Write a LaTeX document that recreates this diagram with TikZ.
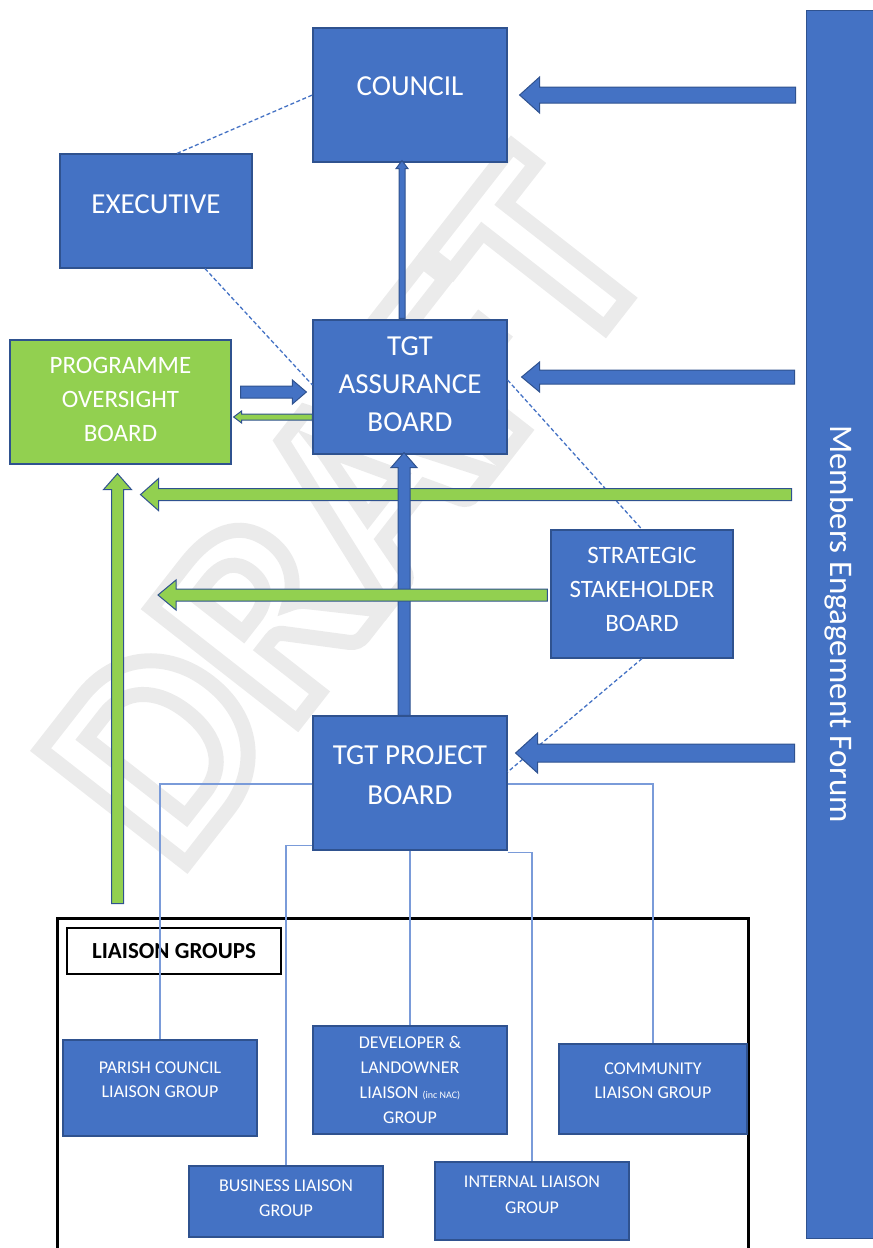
\documentclass[tikz,border=0pt]{standalone}
\usepackage{fontspec}
\setmainfont{Carlito}
\usetikzlibrary{calc}
\definecolor{boxblue}{HTML}{4472C4}
\definecolor{edgeblue}{HTML}{2F528F}
\definecolor{boxgreen}{HTML}{92D050}
\definecolor{linkblue}{HTML}{7A9BD9}
\definecolor{wmgray}{HTML}{EBEBEB}
% block arrow: fill, start, tip, shaft half width, head half width, head length
\newcommand{\blockarrow}[6]{%
  \coordinate (ba-s) at #2;
  \coordinate (ba-e) at #3;
  \coordinate (ba-h) at ($(ba-e)!#6!(ba-s)$);
  \filldraw[arrowedge, fill=#1] ($(ba-s)!#4!90:(ba-e)$) -- ($(ba-h)!#4!90:(ba-e)$)
    -- ($(ba-h)!#5!90:(ba-e)$) -- (ba-e) -- ($(ba-h)!#5!-90:(ba-e)$)
    -- ($(ba-h)!#4!-90:(ba-e)$) -- ($(ba-s)!#4!-90:(ba-e)$) -- cycle;
}
% hollow letters for the watermark
\newcommand{\hollow}[1]{\special{pdf:literal direct 1 Tr 15 w}#1\special{pdf:literal direct 0 Tr}}
\begin{document}
\begin{tikzpicture}[x=1pt, y=1pt,
    board/.style={draw=edgeblue, fill=boxblue, line width=1.2pt, text=white, align=center, inner sep=2pt},
    bigboard/.style={board, font=\fontsize{29}{38}\selectfont},
    midboard/.style={board, font=\fontsize{25}{34}\selectfont},
    smallboard/.style={board, font=\fontsize{18}{24}\selectfont},
    dashlink/.style={boxblue, line width=1.3pt, dash pattern=on 4pt off 2.5pt},
    link/.style={linkblue, line width=1.5pt},
    arrowedge/.style={draw=edgeblue, line width=1pt},
    draftmark/.style={rotate=52, font=\bfseries\fontsize{285}{285}\selectfont}]
	\useasboundingbox (0,0) rectangle (873,-1248);
	% watermark
	\node[draftmark, text=wmgray] (draft) at (345,-510) {\hollow{DRAFT}};

	\node[bigboard, minimum width=194pt, minimum height=134pt, text depth=18pt] (council) at (410,-95) {COUNCIL};
	\node[bigboard, minimum width=192pt, minimum height=114pt, text depth=14pt] (exec) at (156,-211) {EXECUTIVE};
	\node[bigboard, minimum width=194pt, minimum height=134pt, text depth=6pt] (assure) at (410,-387) {TGT\\ASSURANCE\\BOARD};
	\node[midboard, fill=boxgreen, minimum width=221pt, minimum height=124pt, text depth=6pt] (prog) at (120.5,-402) {PROGRAMME\\OVERSIGHT\\BOARD};
	\node[midboard, minimum width=182pt, minimum height=128pt, text depth=10pt] (strat) at (642,-594) {STRATEGIC\\STAKEHOLDER\\BOARD};
	\node[bigboard, font=\fontsize{29}{40}\selectfont, minimum width=194pt, minimum height=134pt, text depth=16pt] (project) at (410,-783) {TGT PROJECT\\BOARD};
	\node[board, rotate=-90, font=\fontsize{33}{38}\selectfont, line width=0.8pt, minimum width=1228pt, minimum height=67pt] (mef) at (839.5,-624) {Members Engagement Forum};

	\draw[dashlink] ($(exec.north)+(21,0)$) -- (council.west);
	\draw[dashlink] ($(exec.south)+(49,0)$) -- ($(assure.west)+(0,2)$);
	\draw[dashlink] ($(assure.east)+(0,7)$) -- (strat.north);
	\draw[dashlink] (strat.south) -- ($(project.east)+(0,11)$);

	% liaison groups
	\node[draw, line width=3pt, minimum width=691pt, minimum height=344pt, inner sep=0pt] (lgframe) at (402.5,-1090) {};
	\node[draw, line width=1.5pt, minimum width=214pt, minimum height=46pt, font=\bfseries\fontsize{23}{28}\selectfont] (lgtitle) at (174,-951) {LIAISON GROUPS};
	\node[smallboard, minimum width=194pt, minimum height=96pt, text depth=16pt] (parish) at (160,-1088) {PARISH COUNCIL\\LIAISON GROUP};
	\node[smallboard, font=\fontsize{18}{25}\selectfont, minimum width=194pt, minimum height=108pt] (dev) at (410,-1080) {DEVELOPER \&\\LANDOWNER\\LIAISON {\fontsize{10}{10}\selectfont(inc NAC)}\\GROUP};
	\node[smallboard, minimum width=188pt, minimum height=90pt, text depth=16pt] (comm) at (653,-1089) {COMMUNITY\\LIAISON GROUP};
	\node[smallboard, font=\fontsize{18}{25}\selectfont, minimum width=194pt, minimum height=71pt, text depth=6pt] (biz) at (286,-1201.5) {BUSINESS LIAISON\\GROUP};
	\node[smallboard, font=\fontsize{18}{26}\selectfont, minimum width=194pt, minimum height=78pt, text depth=12pt] (internal) at (532,-1201) {INTERNAL LIAISON\\GROUP};

	\draw[link] ($(project.west)+(0,-1)$) -| (parish.north);
	\draw[link] ($(project.south west)+(0,5)$) -| (biz.north);
	\draw[link] (project.south) -- (dev.north);
	\draw[link] ($(project.south east)+(0,-2)$) -| (internal.north);
	\draw[link] ($(project.east)+(0,-1)$) -| (comm.north);

	% arrows
	\blockarrow{boxblue}{($(mef.south |- council.east)+(-10,0)$)}{($(council.east)+(12,0)$)}{8pt}{18pt}{20pt}
	\blockarrow{boxblue}{($(mef.south |- assure.east)+(-11,10)$)}{($(assure.east)+(14,10)$)}{7pt}{15pt}{18pt}
	\blockarrow{boxgreen}{($(mef.south |- prog.south)+(-14,-30)$)}{($(prog.south)+(20,-30)$)}{6pt}{16pt}{18pt}
	\blockarrow{boxblue}{($(mef.south |- project.east)+(-11,30)$)}{($(project.east)+(8,30)$)}{9pt}{20pt}{22pt}
	\blockarrow{boxblue}{($(prog.east)+(9,10)$)}{($(assure.west |- prog.east)+(-6,10)$)}{6pt}{12pt}{14pt}
	\blockarrow{boxgreen}{($(assure.west |- prog.east)+(0,-15)$)}{($(prog.east)+(2,-15)$)}{3pt}{6pt}{8pt}
	\blockarrow{boxgreen}{($(prog.south |- lgframe.north)+(-3,13)$)}{($(prog.south)+(-3,-9)$)}{6pt}{14pt}{16pt}
	\blockarrow{boxblue}{($(project.north)+(-6,0)$)}{($(assure.south)+(-6,2)$)}{6pt}{13pt}{15pt}
	\blockarrow{boxblue}{($(assure.north)+(-8,1)$)}{($(council.south)+(-8,2)$)}{3pt}{6pt}{8pt}
	\blockarrow{boxgreen}{($(strat.west)+(-3,-1)$)}{($(prog.south |- strat.west)+(37.5,-1)$)}{6pt}{15pt}{18pt}
\end{tikzpicture}
\end{document}
